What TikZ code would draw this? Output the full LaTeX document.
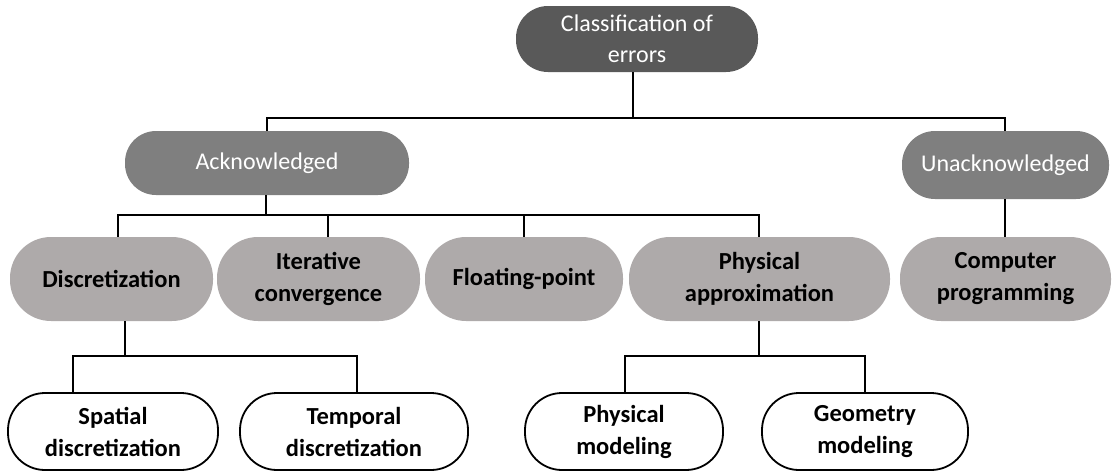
\documentclass[tikz,border=0pt]{standalone}
\usepackage{fontspec}
\setmainfont{Carlito}
\definecolor{rootgray}{HTML}{595959}
\definecolor{midgray}{HTML}{7F7F7F}
\definecolor{lightgray}{HTML}{AEAAAA}
\begin{document}
\begin{tikzpicture}[x=1pt,y=-1pt,
  pill/.style={rectangle, inner sep=0pt, align=center,
    font=\fontsize{24}{31.5}\selectfont},
  darkpill/.style={pill, fill=rootgray, text=white, rounded corners=32pt},
  midpill/.style={pill, fill=midgray, text=white, rounded corners=31pt},
  lightpill/.style={pill, fill=lightgray, text=black,
    font=\fontsize{24.5}{32}\selectfont\bfseries, rounded corners=41pt},
  whitepill/.style={pill, draw=black, line width=1.8pt, fill=white, text=black,
    font=\fontsize{24.5}{32}\selectfont\bfseries, rounded corners=37pt},
  link/.style={draw=black, line width=1.9pt}
]
\useasboundingbox (0,0) rectangle (1114,472);

% level 0
\node[darkpill, minimum width=242pt, minimum height=66pt] (root) at (637,39)
  {Classification of\\errors};

% level 1
\node[midpill, minimum width=284pt, minimum height=64pt] (ack) at (267,163)
  {Acknowledged};
\node[midpill, minimum width=207pt, minimum height=68pt, rounded corners=33pt] (unack) at (1005.5,165)
  {Unacknowledged};

% level 2
\node[lightpill, minimum width=203pt, minimum height=84pt] (disc) at (111.5,279)
  {Discretization};
\node[lightpill, minimum width=203pt, minimum height=84pt] (iter) at (318.5,279)
  {Iterative\\convergence};
\node[lightpill, minimum width=198pt, minimum height=84pt] (float) at (524,279)
  {Floating-point};
\node[lightpill, minimum width=261pt, minimum height=84pt] (phys) at (759.5,279)
  {Physical\\approximation};
\node[lightpill, minimum width=211pt, minimum height=84pt] (comp) at (1005.5,279)
  {Computer\\programming};

% level 3
\node[whitepill, minimum width=210pt, minimum height=77pt] (spat) at (113,431.5)
  {Spatial\\discretization};
\node[whitepill, minimum width=228pt, minimum height=77pt] (temp) at (354,431.5)
  {Temporal\\discretization};
\node[whitepill, minimum width=198pt, minimum height=77pt] (pmod) at (624,431.5)
  {Physical\\modeling};
\node[whitepill, minimum width=206pt, minimum height=77pt] (gmod) at (865,431.5)
  {Geometry\\modeling};

% bus points
\coordinate (b0) at (633,118);
\coordinate (b9) at (1005,118);
\coordinate (b1) at (266,215);
\coordinate (t1) at (118,215);
\coordinate (t2) at (328,215);
\coordinate (t3) at (524,215);
\coordinate (t4) at (759,215);
\coordinate (u0) at (1005,237);
\coordinate (d0) at (125,356);
\coordinate (d1) at (73,356);
\coordinate (d2) at (357,356);
\coordinate (p0) at (759,356);
\coordinate (p1) at (625,356);
\coordinate (p2) at (865,356);

% connectors
\draw[link] (root.south -| b0) -- (b0);
\draw[link] (ack.north) |- (b0) -- (b9) -- (unack.north -| b9);
\draw[link] (ack.south -| b1) -- (b1);
\draw[link] (disc.north -| t1) -- (t1) -- (t4) -- (phys.north -| t4);
\draw[link] (t2) -- (iter.north -| t2);
\draw[link] (t3) -- (float.north -| t3);
\draw[link] (unack.south -| u0) -- (comp.north -| u0);
\draw[link] (disc.south -| d0) -- (d0);
\draw[link] (spat.north -| d1) -- (d1) -- (d2) -- (temp.north -| d2);
\draw[link] (phys.south -| p0) -- (p0);
\draw[link] (pmod.north -| p1) -- (p1) -- (p2) -- (gmod.north -| p2);
\end{tikzpicture}
\end{document}
